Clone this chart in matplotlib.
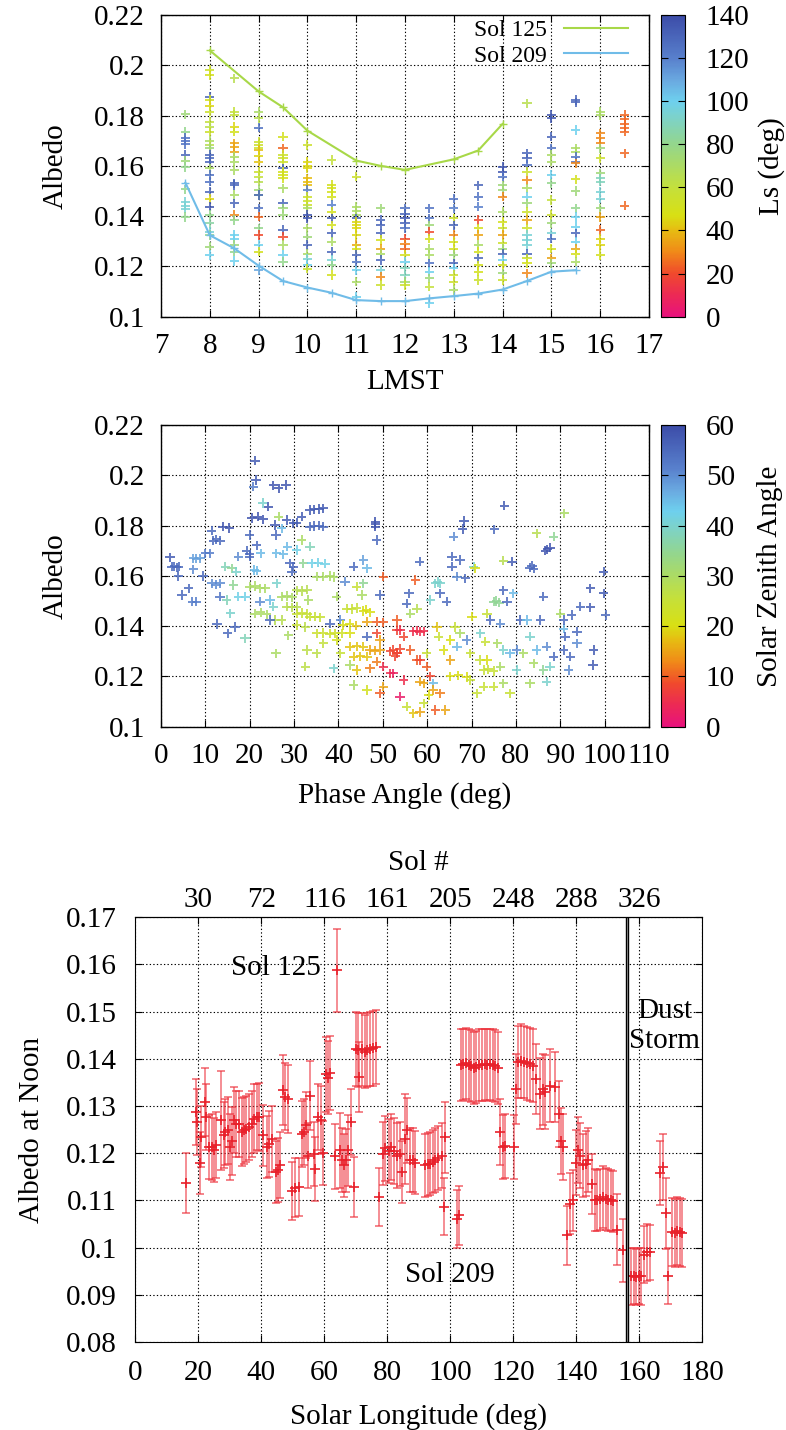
import matplotlib
matplotlib.use("Agg")
import matplotlib.pyplot as plt
import numpy as np
from matplotlib.colors import LinearSegmentedColormap, Normalize

plt.rcParams['font.family'] = ['Liberation Serif', 'DejaVu Serif']
plt.rcParams['font.size'] = 21

# ---------------- Panel 1 data: albedo vs LMST, coloured by Ls ----------------
lmst_cols = [7.5, 8, 8.5, 9, 9.5, 10, 10.5, 11, 11.5, 12, 12.5, 13, 13.5, 14, 14.5, 15, 15.5, 16, 16.5]
col_albedo = [
    [.1805, .1736, .1712, .1700, .1685, .1643, .162, .1595, .1506, .1457, .1441, .143, .1397],
    [.1981, .1961, .1875, .1862, .184, .1815, .1776, .1756, .1736, .170, .1683, .167, .1643, .1630, .1616, .159, .1563, .1537, .1497, .147, .1437, .1404, .1371, .1338, .1325, .1278, .1245],
    [.1948, .1815, .1802, .1756, .1736, .1689, .1676, .1656, .1636, .1616, .1583, .153, .1524, .1484, .1451, .1404, .1384, .1325, .1311, .1285, .1258, .1221],
    [.1815, .1789, .1752, .1696, .1683, .167, .1663, .164, .1616, .1577, .1557, .1537, .1504, .1484, .1484, .1431, .1398, .1351, .1325, .1285, .1258, .1185],
    [.1716, .167, .1643, .163, .1616, .159, .1577, .1563, .155, .151, .1451, .1431, .1404, .1345, .1318, .1285, .1245, .1219],
    [.1683, .1616, .160, .159, .155, .1537, .1524, .1504, .1477, .146, .1444, .1431, .1404, .1391, .1351, .1318, .1285, .1251, .1231, .1205, .1191],
    [.1623, .1524, .151, .1497, .1477, .1444, .1417, .1391, .1364, .1331, .1298, .1258, .1225, .1205, .1166],
    [.1557, .1437, .142, .1404, .1391, .1378, .1364, .1351, .1325, .1285, .1271, .1245, .1219, .1185, .1139, .1079],
    [.1431, .1384, .1364, .1331, .1305, .1271, .1251, .1225, .1185, .1159, .1126],
    [.1431, .141, .1391, .1371, .1351, .1311, .129, .1271, .1245, .1219, .1192, .1165, .1139, .1126],
    [.1431, .1391, .1364, .1338, .1311, .1271, .1245, .1212, .1179, .1153, .1119, .1053],
    [.147, .1431, .1391, .1364, .1325, .1298, .1271, .1245, .1212, .1192, .1166, .1139, .1106],
    [.1523, .1477, .1437, .1384, .1351, .1325, .1285, .1258, .1232, .1205, .1179, .1146],
    [.1597, .1577, .1557, .1523, .1504, .1477, .1418, .1378, .1351, .1325, .1292, .1271, .1251, .1225, .1205, .1172, .1146],
    [.1849, .165, .163, .1603, .1577, .1543, .151, .1477, .1451, .1417, .1384, .1351, .1325, .1305, .1285, .1251, .1232, .1212, .1172],
    [.1802, .1789, .1716, .167, .1643, .1616, .1563, .153, .1464, .1404, .1371, .1331, .1311, .1271, .1232, .1212],
    [.1862, .1853, .1742, .167, .1656, .1636, .1616, .161, .1546, .150, .1431, .1397, .1358, .1331, .1298, .1271, .1251, .1219],
    [.1815, .1802, .1729, .1709, .169, .167, .163, .157, .155, .1537, .1497, .147, .1431, .1397, .1345, .1311, .1285, .1245],
    [.1802, .1785, .1765, .1752, .1736, .165, .1441],
]
col_ls = [
    [75, 80, 125, 125, 125, 130, 75, 80, 80, 95, 95, 95, 80],
    [55, 50, 130, 50, 45, 55, 60, 65, 55, 70, 65, 75, 130, 128, 130, 70, 125, 125, 130, 45, 135, 80, 85, 95, 80, 75, 100],
    [65, 60, 60, 45, 50, 35, 35, 35, 70, 70, 70, 130, 130, 70, 130, 30, 80, 100, 100, 75, 80, 100],
    [70, 65, 125, 55, 55, 55, 40, 45, 42, 55, 60, 65, 75, 75, 130, 125, 25, 80, 20, 100, 50, 110],
    [50, 25, 55, 55, 55, 130, 50, 50, 50, 70, 130, 75, 75, 130, 20, 70, 100, 80],
    [55, 45, 45, 45, 40, 40, 40, 120, 55, 55, 55, 70, 135, 135, 70, 75, 130, 70, 95, 100, 55],
    [60, 50, 50, 50, 50, 120, 50, 135, 50, 130, 70, 130, 95, 80, 50],
    [55, 70, 70, 70, 130, 45, 45, 45, 45, 35, 50, 130, 125, 100, 70, 100],
    [75, 130, 130, 130, 50, 35, 70, 130, 95, 30, 55],
    [125, 130, 135, 130, 125, 20, 30, 25, 50, 100, 90, 90, 75, 55],
    [125, 125, 75, 20, 50, 70, 70, 125, 100, 75, 60, 100],
    [125, 120, 55, 130, 30, 50, 50, 75, 130, 100, 55, 55, 70],
    [130, 125, 120, 20, 50, 35, 70, 50, 130, 50, 50, 55],
    [135, 135, 125, 75, 75, 30, 70, 50, 55, 35, 55, 75, 130, 100, 50, 75, 55],
    [65, 130, 130, 125, 55, 30, 70, 100, 75, 55, 35, 55, 95, 95, 95, 130, 55, 50, 30],
    [135, 135, 130, 125, 70, 70, 100, 80, 60, 55, 75, 95, 125, 50, 35, 75],
    [130, 130, 100, 70, 70, 125, 125, 30, 50, 75, 80, 100, 100, 130, 100, 35, 50, 70],
    [70, 70, 30, 30, 30, 75, 55, 75, 90, 90, 95, 95, 75, 35, 25, 45, 45, 50],
    [25, 25, 25, 25, 25, 25, 25],
]
sol125_lmst = [8, 9, 9.5, 10, 11, 11.5, 12, 13, 13.5, 14]
sol125_albedo = [0.2059, 0.1896, 0.1833, 0.1740, 0.1621, 0.1600, 0.1584, 0.1626, 0.1661, 0.1767]
sol209_lmst = [7.5, 8, 8.5, 9, 9.5, 10, 10.5, 11, 11.5, 12, 12.5, 13, 13.5, 14, 14.5, 15, 15.5]
sol209_albedo = [0.1533, 0.1324, 0.1272, 0.1203, 0.1142, 0.1116, 0.1095, 0.1066, 0.1062, 0.1062,
                 0.1073, 0.1082, 0.1092, 0.1108, 0.1142, 0.1179, 0.1185]

# ---------------- Panel 2 data: albedo vs phase angle, coloured by SZA ----------------
phase_angle = [
    2.0, 2.5, 3.0, 3.5, 4.0, 3.9, 4.7, 6.2, 7.1, 8.0,
    7.3, 8.0, 8.8, 7.3, 9.5, 10.0, 11.0, 11.4, 11.8, 12.5,
    13.3, 14.0, 15.4, 12.6, 15.0, 16.7, 11.4, 12.4, 13.3, 13.3,
    14.5, 16.0, 17.0, 14.8, 15.6, 17.4, 19.0, 16.3, 17.4, 18.9,
    19.3, 20.0, 21.2, 21.4, 20.8, 25.3, 26.5, 28.2, 20.5, 21.8,
    23.0, 24.2, 22.9, 26.5, 28.3, 25.7, 27.2, 25.9, 20.0, 21.6,
    20.0, 22.5, 26.0, 27.6, 21.0, 21.6, 20.0, 21.2, 22.3, 23.5,
    26.1, 27.2, 28.3, 29.5, 22.3, 24.6, 25.3, 21.2, 22.5, 23.8,
    25.7, 27.2, 24.6, 28.7, 25.9, 29.5, 29.1, 28.5, 29.8, 30.6,
    31.7, 33.6, 34.6, 35.6, 36.6, 33.6, 34.6, 35.6, 36.6, 30.6,
    32.1, 34.0, 35.5, 37.0, 29.8, 31.7, 33.6, 35.1, 36.6, 38.0,
    38.9, 30.6, 31.8, 32.9, 33.2, 28.3, 29.5, 30.6, 30.6, 31.8,
    32.9, 33.6, 34.8, 35.9, 30.6, 32.5, 35.1, 36.6, 38.1, 39.2,
    40.8, 36.6, 32.9, 35.1, 32.5, 38.9, 39.6, 40.4, 41.5, 39.6,
    38.1, 43.4, 45.6, 46.4, 48.3, 48.3, 48.3, 48.6, 45.6, 44.1,
    45.3, 41.9, 43.0, 44.1, 45.6, 47.1, 46.3, 49.4, 50.1, 41.0,
    42.5, 44.0, 42.6, 46.4, 48.6, 50.1, 48.6, 46.4, 42.6, 44.1,
    45.6, 47.1, 48.2, 49.4, 49.4, 43.4, 44.9, 46.4, 48.6, 40.4,
    42.6, 44.1, 47.1, 50.1, 43.4, 46.4, 49.4, 51.7, 50.1, 53.2,
    53.2, 53.9, 54.7, 53.2, 56.2, 57.7, 55.9, 57.3, 58.3, 55.4,
    51.7, 52.4, 53.2, 53.9, 52.8, 52.4, 54.7, 53.9, 55.4, 56.9,
    58.4, 57.7, 56.9, 57.7, 58.4, 59.2, 56.2, 58.4, 59.9, 59.9,
    60.7, 59.2, 61.4, 60.3, 59.2, 61.4, 62.9, 64.1, 61.8, 58.4,
    62.2, 62.6, 63.7, 65.2, 60.7, 61.8, 62.4, 62.9, 62.9, 64.4,
    65.6, 65.6, 67.4, 68.0, 68.3, 66.0, 66.7, 68.6, 70.5, 70.8,
    70.1, 66.3, 67.4, 68.9, 69.7, 65.2, 66.7, 65.2, 67.0, 68.9,
    69.7, 71.2, 71.9, 77.4, 75.1, 79.1, 77.2, 77.2, 79.4, 75.0,
    75.6, 76.2, 73.5, 78.0, 74.2, 76.5, 72.0, 73.1, 75.8, 77.2,
    78.7, 73.5, 72.7, 73.8, 75.0, 76.5, 72.7, 75.0, 77.2, 78.7,
    80.2, 80.2, 81.0, 83.2, 83.6, 84.0, 84.7, 86.6, 87.1, 87.7,
    88.5, 90.9, 86.2, 85.5, 82.5, 83.2, 84.7, 81.7, 84.0, 86.2,
    87.7, 86.9, 83.2, 86.9, 88.5, 90.0, 90.8, 91.1, 90.8, 92.3,
    91.9, 92.6, 93.8, 93.8, 94.5, 96.8, 96.8, 97.5, 97.4, 99.8,
    99.8, 100.2, 90.8,
]
phase_albedo = [
    .1674, .1636, .1638, .1634, .1636, .160, .1524, .155, .1497, .1497,
    .167, .1668, .167, .1626, .160, .169, .169, .178, .174, .1745,
    .174, .1796, .179, .1408, .1371, .1397, .157, .1565, .157, .1517,
    .1636, .163, .1616, .1504, .1451, .1517, .1517, .1563, .1676, .1351,
    .170, .1685, .2058, .1981, .1955, .196, .1948, .1961, .183, .1835,
    .1825, .1875, .189, .1835, .1822, .1802, .1789, .1762, .1762, .1722,
    .1676, .169, .169, .1685, .1623, .162, .1557, .156, .155, .155,
    .157, .1517, .152, .1515, .1497, .1504, .1477, .145, .1455, .1447,
    .1424, .1424, .1424, .1364, .1292, .1617, .165, .1716, .1809, .1812,
    .1835, .1862, .1865, .1866, .1868, .1796, .1798, .1800, .1796, .1703,
    .165, .165, .1652, .1648, .1636, .1742, .1716, .1597, .1597, .160,
    .1595, .1543, .1540, .1545, .1504, .1477, .1475, .1478, .145, .1452,
    .1448, .1437, .1438, .1435, .1404, .1397, .1371, .1373, .1370, .1371,
    .1371, .1331, .1305, .1292, .1239, .1232, .1345, .1424, .1577, .1517,
    .141, .1636, .1663, .163, .1815, .1805, .1795, .1742, .157, .1557,
    .1524, .147, .1468, .1472, .146, .1455, .1465, .1524, .1597, .1405,
    .1408, .1402, .1371, .1418, .1418, .1415, .1371, .1358, .1318, .1320,
    .1318, .1305, .1303, .1305, .1345, .1278, .1280, .1278, .1258, .1292,
    .1245, .1225, .1232, .1239, .1166, .1146, .1133, .1212, .1159, .1292,
    .1384, .1384, .1358, .1424, .145, .147, .153, .1583, .1656, .149,
    .130, .1305, .1295, .131, .128, .1212, .1186, .112, .108, .1053,
    .1059, .1265, .138, .1382, .1378, .138, .1305, .1265, .1292, .1239,
    .120, .1172, .1172, .1126, .1093, .1146, .1133, .1066, .1066, .1179,
    .1397, .1358, .1305, .1265, .1504, .157, .1575, .157, .153, .1497,
    .1636, .1676, .1663, .1786, .1818, .1756, .1597, .159, .1636, .163,
    .1437, .1397, .1371, .1345, .1292, .1345, .1318, .120, .1205, .1198,
    .1186, .1133, .1265, .1879, .1785, .1656, .166, .1543, .153, .1497,
    .150, .1494, .145, .1497, .1424, .141, .1371, .1338, .1331, .1305,
    .1292, .1265, .1225, .1228, .1222, .1239, .1159, .1159, .1172, .1133,
    .1225, .1305, .1424, .1633, .1640, .1628, .1769, .170, .1705, .1712,
    .1756, .1849, .1517, .1424, .1424, .1358, .1305, .1292, .1252, .1225,
    .1239, .1318, .1172, .1179, .1278, .145, .139, .1358, .1305, .1278,
    .1225, .1444, .1378, .1331, .1477, .155, .1475, .1305, .1245, .153,
    .1617, .1444, .1424,
]
phase_sza = [
    57, 55, 55, 55, 55, 55, 55, 55, 52, 52,
    48, 48, 48, 50, 55, 52, 52, 55, 55, 55,
    55, 58, 58, 55, 55, 55, 50, 50, 50, 53,
    38, 35, 40, 38, 40, 42, 42, 35, 50, 38,
    55, 55, 57, 57, 52, 58, 58, 58, 58, 58,
    58, 58, 40, 30, 57, 57, 45, 55, 55, 55,
    55, 45, 45, 45, 45, 45, 30, 30, 30, 30,
    40, 30, 30, 30, 50, 45, 40, 30, 30, 30,
    28, 28, 55, 30, 30, 55, 55, 45, 57, 57,
    57, 57, 57, 57, 57, 55, 55, 55, 55, 42,
    35, 42, 42, 42, 55, 30, 38, 30, 30, 30,
    30, 28, 28, 28, 30, 28, 28, 28, 25, 25,
    25, 25, 25, 25, 25, 27, 24, 24, 24, 23,
    23, 26, 27, 27, 27, 40, 22, 50, 50, 30,
    55, 55, 48, 45, 58, 58, 58, 55, 35, 25,
    30, 25, 25, 25, 20, 20, 20, 55, 10, 20,
    20, 18, 20, 15, 10, 10, 8, 55, 18, 18,
    18, 15, 15, 15, 15, 18, 18, 18, 12, 25,
    30, 18, 12, 5, 30, 22, 10, 5, 15, 5,
    8, 5, 8, 10, 30, 28, 55, 10, 55, 55,
    8, 8, 8, 8, 8, 3, 5, 2, 25, 18,
    15, 10, 5, 5, 5, 5, 10, 8, 25, 10,
    8, 15, 45, 20, 25, 15, 12, 15, 10, 15,
    18, 25, 20, 15, 40, 40, 40, 40, 55, 55,
    55, 55, 55, 57, 57, 50, 50, 55, 40, 20,
    20, 25, 30, 50, 25, 20, 45, 20, 20, 20,
    25, 25, 25, 57, 55, 57, 28, 55, 45, 35,
    35, 35, 25, 55, 55, 50, 40, 25, 30, 40,
    45, 20, 25, 25, 25, 30, 25, 25, 30, 25,
    40, 50, 55, 55, 55, 55, 28, 58, 58, 58,
    35, 30, 55, 55, 45, 40, 45, 30, 30, 35,
    40, 50, 30, 40, 55, 30, 45, 55, 55, 55,
    50, 55, 55, 50, 55, 57, 57, 57, 57, 57,
    57, 55, 55,
]

# ---------------- Panel 3 data: noon albedo vs solar longitude ----------------
noon_ls = [
    16.2, 19.3, 19.6, 20.5, 21.0, 22.1, 22.6, 23.3, 24.2, 25.0, 25.7, 27.2, 28.0, 28.6, 29.3, 30.0,
    30.7, 31.4, 32.1, 33.0, 33.9, 34.6, 35.3, 36.1, 36.9, 37.8, 38.6, 39.4, 40.4, 41.8, 42.5, 43.4,
    44.6, 45.3, 46.0, 47.0, 47.6, 48.4, 49.8, 50.8, 52.1, 53.0, 53.5, 54.2, 54.9, 55.5, 56.6, 57.2,
    58.1, 58.8, 59.6, 60.6, 61.2, 61.8, 63.3, 64.1, 64.9, 65.6, 66.4, 66.9, 67.6, 68.6, 69.5, 70.0,
    70.6, 71.1, 72.0, 72.9, 73.7, 74.6, 75.4, 76.3, 77.5, 78.5, 79.4, 80.4,
    81.2, 82.0, 83.2, 84.0, 84.6, 85.6, 86.4, 87.3, 88.0, 88.8, 92.0, 92.8, 93.6, 94.4, 95.3, 96.2,
    97.3, 98.0, 98.4, 102.2, 102.8,
    103.3, 104.1, 104.9, 105.8, 106.6, 107.5, 108.3, 109.2, 110.0, 110.9, 111.7, 112.6, 113.4, 114.2, 115.0,
    115.8, 116.6, 117.5, 120.2, 121.0, 121.6, 122.6, 123.5, 124.4, 125.3, 126.2, 127.3, 128.6, 129.4,
    130.0, 131.6, 133.2, 134.5, 135.3, 135.8, 137.0, 138.0, 138.8, 139.8, 140.5, 141.3, 142.0, 143.0,
    143.8, 144.9, 145.8, 146.6, 147.4, 148.5, 149.3, 150.0, 151.0, 151.8, 153.0, 154.7,
    157.4, 158.2, 159.0, 159.8, 160.6, 161.6, 162.6, 163.3, 166.5, 167.6, 168.4, 169.2,
    170.4, 171.2, 172.0, 172.8, 173.6,
]
noon_albedo = [
    .1137, .1287, .1266, .1179, .1235, .1308, .1276, .1213, .1213, .1206, .1218, .1270, .1238, .1245, .1248, .1213,
    .1225, .1270, .1262, .1262, .1245, .1248, .1252, .1255, .1262, .1273, .1276, .1276, .1238, .1213, .1220, .1230,
    .1160, .1165, .1174, .1333, .1320, .1315, .1120, .1127, .1128, .1241, .1245, .1259, .1195, .1322, .1199, .1167,
    .1276, .1270, .1200, .1367, .1360, .1370, .1193, .1587, .1206, .1185, .1174, .1185, .1206, .1266, .1128, .1421,
    .1418, .1361, .1420, .1415, .1418, .1420, .1422, .1425, .1107, .1199, .1210, .1205,
    .1213, .1205, .1195, .1198, .1160, .1230, .1248, .1185, .1185, .1180, .1174, .1176, .1178, .1182, .1185, .1190,
    .1195, .1087, .1234, .1061, .1068,
    .1386, .1388, .1390, .1386, .1384, .1380, .1383, .1386, .1387, .1388, .1387, .1388, .1386, .1385, .1380,
    .1245, .1213, .1215, .1213, .1336, .1393, .1395, .1393, .1390, .1388, .1385, .1357, .1326, .1335,
    .1329, .1343, .1340, .1283, .1225, .1213, .1026, .1093, .1100, .1180, .1206, .1195, .1174, .1178,
    .1185, .1135, .1101, .1100, .1102, .1107, .1103, .1101, .1100, .1098, .1038, .0994,
    .0939, .0940, .0938, .0940, .0939, .0985, .0990, .0990, .1158, .1171, .1073, .0940,
    .1033, .1030, .1035, .1033, .1030,
]
noon_err = [
    .0063, .0070, .0070, .0066, .0065, .0072, .0070, .0068, .0070, .0068, .0070, .0105, .0070, .0070, .0070, .0070,
    .0072, .0070, .0070, .0070, .0072, .0070, .0070, .0070, .0070, .0073, .0070, .0072, .0065, .0065, .0070, .0070,
    .0066, .0068, .0070, .0074, .0072, .0072, .0062, .0063, .0062, .0070, .0070, .0070, .0068, .0074, .0068, .0068,
    .0070, .0072, .0068, .0080, .0078, .0078, .0068, .0087, .0080, .0068, .0067, .0067, .0075, .0070, .0063, .0078,
    .0078, .0074, .0077, .0078, .0078, .0078, .0079, .0079, .0062, .0067, .0068, .0068,
    .0070, .0070, .0068, .0068, .0065, .0095, .0068, .0068, .0068, .0066, .0067, .0067, .0067, .0067, .0068, .0068,
    .0068, .0060, .0075, .0062, .0062,
    .0076, .0076, .0076, .0076, .0076, .0076, .0076, .0076, .0076, .0076, .0076, .0076, .0076, .0076, .0076,
    .0070, .0068, .0068, .0068, .0075, .0077, .0078, .0077, .0077, .0077, .0077, .0075, .0075, .0075,
    .0078, .0078, .0075, .0070, .0070, .0070, .0062, .0065, .0064, .0068, .0070, .0068, .0067, .0068,
    .0068, .0064, .0065, .0065, .0065, .0066, .0066, .0066, .0065, .0065, .0075, .0066,
    .0060, .0060, .0060, .0060, .0060, .0060, .0060, .0058, .0068, .0070, .0075, .0060,
    .0072, .0072, .0072, .0072, .0072,
]
sol_tick_ls = [20, 40, 60, 80, 100, 120, 140, 160]
sol_tick_labels = ['30', '72', '116', '161', '205', '248', '288', '326']

# ---------------- colour map (gnuplot-like palette) ----------------
cm_nodes = [0.0, 10/140, 20/140, 30/140, 40/140, 47/140, 60/140, 80/140, 100/140, 110/140, 120/140, 1.0]
cm_cols = ['#e8127c', '#ec2a54', '#f04a2c', '#f08a18', '#e6bc12', '#d8e014', '#c4e03c',
           '#94d68c', '#6ed0ee', '#6aa8e0', '#5880cc', '#3c4ca8']
cmap = LinearSegmentedColormap.from_list('pal', list(zip(cm_nodes, cm_cols)))

W, H = 786, 1430
fig = plt.figure(figsize=(W/100, H/100), dpi=100)

def fx(px):
    return px / W

def fy(py):
    return 1 - py / H

grid_kw = dict(color='black', linestyle=(0, (1.2, 2.0)), linewidth=0.8)

def style(ax):
    ax.tick_params(direction='in', top=True, right=True, length=5, width=0.8, labelsize=21, pad=11.5)
    for s in ax.spines.values():
        s.set_linewidth(1.0)
    ax.grid(True, **grid_kw)
    ax.set_axisbelow(False)

# ---------------- Panel 1 ----------------
ax1 = fig.add_axes([fx(161), fy(316.7), fx(488), 301.7/H])
norm1 = Normalize(0, 140)
for x, al, ls in zip(lmst_cols, col_albedo, col_ls):
    ax1.scatter(np.full(len(al), x), al, c=ls, cmap=cmap, norm=norm1,
                marker='+', s=45, linewidths=1.4, alpha=0.85, zorder=3)
ax1.plot(sol125_lmst, sol125_albedo, color='#a8d848', lw=1.5, marker='+', ms=6, label='Sol 125', zorder=4)
ax1.plot(sol209_lmst, sol209_albedo, color='#70bce8', lw=1.5, marker='+', ms=6, label='Sol 209', zorder=4)
ax1.set_xlim(7, 17)
ax1.set_ylim(0.1, 0.22)
ax1.set_xticks(range(7, 18))
ax1.set_yticks([0.1, 0.12, 0.14, 0.16, 0.18, 0.2, 0.22])
ax1.set_yticklabels(['0.1', '0.12', '0.14', '0.16', '0.18', '0.2', '0.22'])
style(ax1)
ax1.set_xlabel('LMST', fontsize=21, labelpad=7.5)
ax1.set_ylabel('Albedo', fontsize=21, labelpad=18)
leg = ax1.legend(loc='upper right', bbox_to_anchor=(0.976, 1.017), frameon=False, markerfirst=False,
                 fontsize=17, handlelength=2.7, borderaxespad=0.0, labelspacing=0.18, handletextpad=0.72)
for l in leg.get_lines():
    l.set_marker('')

cax1 = fig.add_axes([fx(660.7), fy(316.7), fx(24.3), 301.7/H])
cb1 = fig.colorbar(plt.cm.ScalarMappable(norm=norm1, cmap=cmap), cax=cax1)
cb1.set_ticks(range(0, 141, 20))
cb1.ax.tick_params(direction='in', left=True, right=True, length=5, labelsize=21, pad=15)
cb1.set_label('Ls (deg)', fontsize=21, labelpad=6)

# ---------------- Panel 2 ----------------
ax2 = fig.add_axes([fx(161), fy(726.7), fx(488), 301.7/H])
norm2 = Normalize(0, 60)
ax2.scatter(phase_angle, phase_albedo, c=phase_sza, cmap=cmap, norm=norm2,
            marker='+', s=45, linewidths=1.4, alpha=0.85, zorder=3)
ax2.set_xlim(0, 110)
ax2.set_ylim(0.1, 0.22)
ax2.set_xticks(range(0, 111, 10))
ax2.set_yticks([0.1, 0.12, 0.14, 0.16, 0.18, 0.2, 0.22])
ax2.set_yticklabels(['0.1', '0.12', '0.14', '0.16', '0.18', '0.2', '0.22'])
style(ax2)
ax2.set_xlabel('Phase Angle (deg)', fontsize=21, labelpad=10)
ax2.set_ylabel('Albedo', fontsize=21, labelpad=18)

cax2 = fig.add_axes([fx(660.7), fy(726.7), fx(24.3), 301.7/H])
cb2 = fig.colorbar(plt.cm.ScalarMappable(norm=norm2, cmap=cmap), cax=cax2)
cb2.set_ticks(range(0, 61, 10))
cb2.ax.tick_params(direction='in', left=True, right=True, length=5, labelsize=21, pad=15)
cb2.set_label('Solar Zenith Angle', fontsize=21, labelpad=16)

# ---------------- Panel 3 ----------------
ax3 = fig.add_axes([fx(135.3), fy(1342), fx(567), 424.9/H])
ax3.errorbar(noon_ls, noon_albedo, yerr=noon_err, fmt='+', color='#e8202a', ms=7, mew=1.2,
             ecolor=(0.93, 0.2, 0.24, 0.7), elinewidth=1.1, capsize=3, capthick=1.0, zorder=3)
ax3.axvspan(155.7, 156.5, facecolor='#c8c8c8', edgecolor='black', lw=1.0, zorder=4)
ax3.set_xlim(0, 180)
ax3.set_ylim(0.08, 0.17)
ax3.set_xticks(range(0, 181, 20))
ax3.set_yticks(np.round(np.arange(0.08, 0.1701, 0.01), 2))
ax3.set_yticklabels(['0.08', '0.09', '0.1', '0.11', '0.12', '0.13', '0.14', '0.15', '0.16', '0.17'])
ax3.tick_params(direction='in', right=True, top=False, length=5, width=0.8, labelsize=21, pad=13)
ax3.grid(True, **grid_kw)
ax3.set_xlabel('Solar Longitude (deg)', fontsize=21, labelpad=12)
ax3.set_ylabel('Albedo at Noon', fontsize=21, labelpad=15)
sec = ax3.secondary_xaxis('top')
sec.set_xticks(sol_tick_ls)
sec.set_xticklabels(sol_tick_labels)
sec.tick_params(direction='in', length=5, labelsize=21, pad=3)
sec.set_xlabel('Sol #', fontsize=21, labelpad=12)
ax3.text(59, 0.1592, 'Sol 125', ha='right', va='center', fontsize=21, zorder=5)
ax3.text(100, 0.0942, 'Sol 209', ha='center', va='center', fontsize=21, zorder=5)
ax3.text(168, 0.147, 'Dust\nStorm', ha='center', va='center', fontsize=21, linespacing=1.2, zorder=5)

fig.savefig('out.png', dpi=100)
